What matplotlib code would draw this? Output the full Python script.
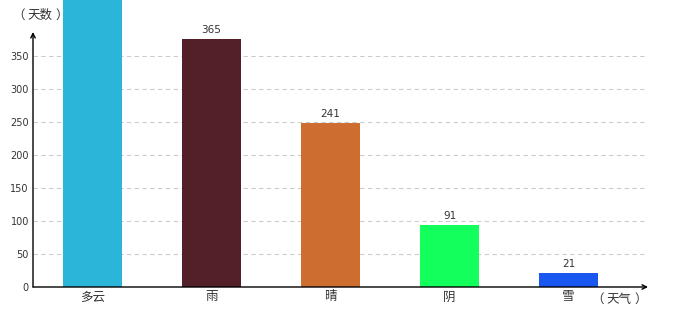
import matplotlib
matplotlib.use("Agg")
import matplotlib.pyplot as plt

plt.rcParams['font.family'] = ['Noto Sans CJK SC', 'DejaVu Sans']

categories = ["多云", "雨", "晴", "阴", "雪"]
values = [520, 365, 241, 91, 21]
colors = ["#2BB5D9", "#53202A", "#CD6D2F", "#13FF5B", "#1A56F0"]
tick_labels = [0, 50, 100, 150, 200, 250, 300, 350]
y_name = "天数"
x_name = "天气"

# the reference's gridlines sit slightly below the bar scale
tick_scale = 0.9715

fig = plt.figure(figsize=(6.8, 3.2), dpi=100)
ax = fig.add_axes([33/680, 33/320, 615/680, 287/320])

x = list(range(len(categories)))
bars = ax.bar(x, values, width=0.5, color=colors, zorder=3)
ax.set_xlim(-0.5, 4.668)
ax.set_ylim(0, 287/0.6795)

for xi, v in zip(x, values):
    ax.annotate(str(v), (xi, v), xytext=(0, 3), textcoords='offset points',
                ha='center', va='bottom', fontsize=7.5, color='#333333',
                family=['DejaVu Sans'], annotation_clip=True)

ax.set_yticks([t * tick_scale for t in tick_labels])
ax.set_yticklabels([str(t) for t in tick_labels], fontsize=7, color='#333333',
                   family=['DejaVu Sans'])
ax.set_xticks(x)
ax.set_xticklabels(categories, fontsize=9, color='#333333')
ax.tick_params(axis='y', length=0, pad=3)
ax.tick_params(axis='x', length=0, pad=2.5)

for t in tick_labels[1:]:
    ax.axhline(t * tick_scale, color='#CCCCCC', linestyle=(0, (4, 3)), linewidth=0.8, zorder=1)

for s in ax.spines.values():
    s.set_visible(False)

# axes arrows
ax.annotate('', xy=(0, 0.8885), xytext=(0, 0), xycoords='axes fraction',
            arrowprops=dict(arrowstyle='->', color='black', lw=1.0,
                            shrinkA=0, shrinkB=0, mutation_scale=8), zorder=5)
ax.annotate('', xy=(1.0, 0), xytext=(0, 0), xycoords='axes fraction',
            arrowprops=dict(arrowstyle='->', color='black', lw=1.0,
                            shrinkA=0, shrinkB=0, mutation_scale=8), zorder=5)


def paren_label(cx, cy, s):
    kw = dict(va='center', fontsize=9, color='#333333')
    fig.text(cx / 680, 1 - cy / 320, s, ha='center', **kw)
    fig.text((cx - 15) / 680, 1 - cy / 320, "（", ha='right', **kw)
    fig.text((cx + 15) / 680, 1 - cy / 320, "）", ha='left', **kw)


paren_label(40, 15, y_name)
paren_label(619, 299, x_name)

fig.savefig("out.png", dpi=100, facecolor='white')
